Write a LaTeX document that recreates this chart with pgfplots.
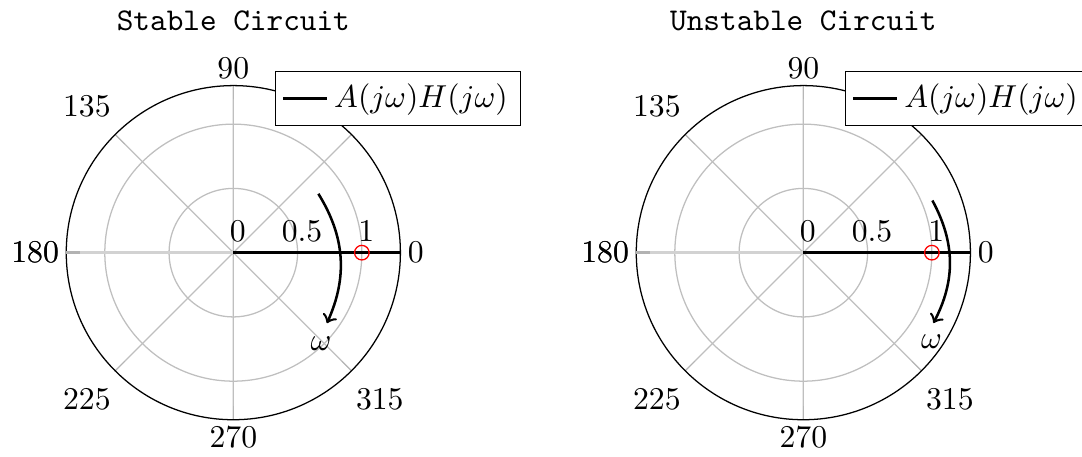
\documentclass[border=0pt]{standalone}
\usepackage{pgfplots}
\pgfplotsset{compat=1.18}
\usepgfplotslibrary{polar}

\pgfplotsset{
  nyquist/.style={
    scale only axis,
    width=105.4pt, height=105.4pt,
    xmin=0, xmax=360,
    ymin=0, ymax=1.3,
    xtick={45,90,...,315},
    extra x ticks={0,180},
    extra x tick style={
      grid style={gray!35, line width=0.8pt},
      tick style={gray!35, line width=0.8pt},
    },
    xticklabel style={inner sep=6.4pt},
    ytick={0,0.5,1},
    yticklabel style={xshift=1.4pt},
    grid=major,
    grid style={gray!50, line width=0.4pt},
    xtick align=outside,
    x tick style={gray!60},
    y tick style={draw=none},
    title style={font=\ttfamily, yshift=-0.8pt},
    legend image code/.code={\draw[#1] (0cm,0cm) -- (0.48cm,0cm);},
    legend style={at={(0.625,1.044)}, anchor=north west, legend cell align=left,
      inner xsep=2pt, nodes={inner xsep=2pt}},
  }
}

\begin{document}
\begin{tikzpicture}
  % left: loop gain below one at the phase crossing
  \begin{polaraxis}[nyquist, title={Stable Circuit}]
    \addplot[thick, black] coordinates {(0,0) (0,1.3)};
    \addlegendentry{$A(j\omega)H(j\omega)$}
    \addplot[only marks, mark=o, red, mark size=2.3pt, forget plot] coordinates {(0,1)};
    \draw[->, thick] (axis cs:34.7,0.805) to[bend left=28] (axis cs:-37,0.912);
    \node at (axis cs:-46.2,0.985) {$\omega$};
  \end{polaraxis}

  % right: loop gain above one at the phase crossing
  \begin{polaraxis}[nyquist, at={(179.8pt,0pt)}, title={Unstable Circuit}]
    \addplot[thick, black] coordinates {(0,0) (0,1.3)};
    \addlegendentry{$A(j\omega)H(j\omega)$}
    \addplot[only marks, mark=o, red, mark size=2.3pt, forget plot] coordinates {(0,1)};
    \draw[->, thick] (axis cs:22,1.083) to[bend left=28] (axis cs:-28.4,1.151);
    \node at (axis cs:-34.9,1.217) {$\omega$};
  \end{polaraxis}

  \pgfresetboundingbox
  \path[use as bounding box] (-20.9pt,-11.45pt) rectangle (320.4pt,132.4pt);
\end{tikzpicture}
\end{document}
